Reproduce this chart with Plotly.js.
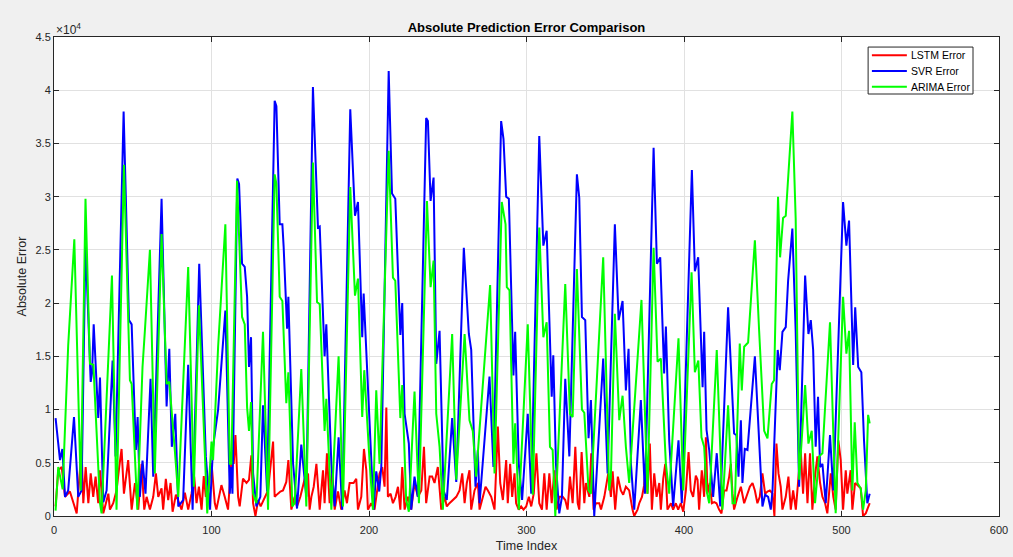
<!DOCTYPE html>
<html>
<head>
<meta charset="utf-8">
<script src="https://cdn.plot.ly/plotly-3.0.1.min.js"></script>
<style>
html,body{margin:0;padding:0;background:#f0f0f0;}
#chart{width:1013px;height:557px;}
</style>
</head>
<body>
<div id="chart"></div>
<script>
// [time index, absolute error]
const lstmError = [[1,900],[2.7,4300],[4.9,4600],[7,1800],[10.1,2300],[12.3,1200],[14.4,250],[17.5,6300],[18.6,1200],[20.1,4600],[21.8,1200],[23.3,4000],[24.9,1800],[26.4,3700],[28.1,1200],[29.2,4300],[31.3,250],[34.5,2100],[35.5,600],[37.6,1200],[39.7,2400],[41.4,4600],[42.9,6300],[44.4,2100],[47.1,5250],[49.3,600],[51.4,3100],[53.5,600],[55.6,4900],[57.3,600],[58.8,1800],[60.9,600],[63,1800],[64.7,4000],[66.2,1800],[68.3,2600],[69.3,600],[71,3500],[72.5,1500],[74,3100],[75.3,400],[77.4,2000],[81,600],[83.1,2200],[85.2,600],[87.3,2100],[89,3700],[90.5,1200],[92,2750],[93.7,600],[95.1,3750],[96.4,1800],[97.9,2400],[100,5000],[102.1,1200],[103.1,600],[106.3,2900],[108.4,1800],[110.5,600],[113.1,6200],[114.1,4900],[115.2,7600],[116.9,1800],[117.9,900],[120,3500],[122.2,3100],[123.8,3400],[125.3,5700],[126.4,1200],[127.9,0],[129.6,1500],[131.2,900],[133.8,1800],[135.9,2400],[139.1,7000],[140.1,1800],[142.2,2100],[143.7,2300],[145.4,2400],[147.5,3200],[148.8,5250],[150.7,600],[152.8,1800],[154.3,900],[156.4,1800],[159.2,3500],[161.3,4000],[162.3,600],[163.4,1800],[164.9,2750],[166.6,4900],[168.7,600],[170.8,4300],[171.8,1200],[173.3,5900],[175,1200],[176.7,4000],[178.2,600],[180.3,2300],[182.4,600],[184.5,2400],[186,1200],[187.7,3100],[190.2,3100],[191.9,3500],[193,600],[195.1,1800],[196.8,6300],[198.3,4300],[199.3,600],[201.4,1200],[203.5,600],[206.7,4000],[208.4,4600],[209.9,2750],[211,10200],[212,1800],[213.7,2100],[215.2,1200],[216.9,1800],[218.4,2750],[219.9,600],[221.1,4600],[222.6,600],[224.7,1800],[226.8,600],[228.9,3100],[231.1,1800],[233.2,2400],[234.9,6500],[236.3,1200],[238.5,3700],[240.1,3700],[241.6,3100],[243.7,4600],[245.9,600],[248,1800],[249.4,900],[251.1,1200],[253.3,1500],[255.4,1800],[257.5,2400],[259.2,4000],[260.7,1200],[262.1,3100],[263.8,4300],[264.9,600],[267,2400],[269.1,3100],[270.2,600],[272.3,1800],[274,2750],[275.5,2400],[277.6,1800],[279.7,600],[281.8,8400],[283.3,3100],[285,1500],[287.1,5250],[288.1,1200],[289.6,4900],[290.9,1800],[292.4,4000],[293.4,1200],[295.1,600],[296.6,900],[298.1,600],[299.8,900],[301.5,1800],[303,900],[304.6,2100],[306.3,5900],[308.1,1200],[309.8,600],[311.3,4000],[312.8,600],[314.5,4000],[316,1200],[317.7,4300],[319.1,600],[320.8,1800],[323,1800],[324.6,1500],[326.1,600],[327.6,3700],[329.3,1200],[331,6500],[332.5,1200],[333.5,600],[335,6000],[336.7,1200],[337.7,3100],[339.9,1800],[341.1,5900],[342.6,600],[344.1,1200],[346.2,1200],[347.3,600],[349.4,1800],[351.9,4000],[353.6,1800],[354.7,4200],[356.3,600],[358,3700],[359.9,2400],[361.4,2000],[363.1,2750],[365.2,2400],[367.3,600],[368.4,0],[370.5,600],[371.6,1200],[373.3,1800],[374.7,2900],[375.8,4900],[376.8,2100],[378.3,6800],[379.6,600],[381.1,4000],[382.6,1800],[384.3,3100],[385.3,600],[386.8,3500],[388.1,4900],[389.5,600],[391.7,1200],[393.1,600],[394.8,1200],[396.3,600],[398,1200],[399.5,400],[401.2,2400],[402.9,6000],[404.3,2400],[405.8,1800],[407.5,3800],[408.6,3400],[409.6,600],[411.3,4300],[412.8,1800],[413.9,7400],[414.9,2100],[416.4,3100],[417.7,1200],[419.2,1300],[420.6,1200],[422.3,600],[423.8,250],[425.5,2400],[427,2400],[428.7,3700],[429.7,4900],[430.8,2100],[431.8,600],[434,1800],[436.1,2750],[438.2,1200],[440.3,2100],[441.8,2750],[443.5,3100],[445,2400],[446.6,1200],[448.1,1800],[449.8,4000],[451.5,2100],[453,2300],[454.5,2400],[456.2,2100],[457.4,0],[458.7,6800],[460,4000],[461.4,2750],[462.5,600],[464.6,1800],[466.3,3700],[467.8,600],[469.3,2400],[471,600],[472.6,3500],[474.1,6200],[475.6,2100],[476.9,5900],[478.4,1200],[480,5900],[481.5,600],[483.2,3800],[484.7,5600],[486.4,3100],[487.9,1800],[489.6,1200],[491,250],[493.2,4000],[494.8,1800],[496.3,600],[498,7100],[499.5,5250],[501,600],[502.7,4300],[503.7,2100],[505.8,4300],[506.9,600],[508.6,3100],[510.1,2900],[512.2,2600],[513.7,0],[515.4,250],[517.9,1200]];

const svrError = [[1,9200],[3.8,5250],[5.3,6300],[7,1800],[9,2400],[12.7,9300],[15.4,1800],[17.5,2400],[20,25700],[23.3,12600],[24.2,13500],[25.2,18000],[28.1,9200],[29.2,13000],[31.3,1300],[33.4,2400],[37.2,14600],[39.1,5600],[44.2,38000],[47.6,18400],[49.3,18000],[52,6200],[53.1,9300],[54.5,1800],[56.2,5200],[58.1,2100],[61.3,12900],[63,3700],[68.3,29800],[71.5,10300],[73.2,15700],[74.8,6500],[77,9600],[78.9,900],[82,1500],[85.2,14200],[88,600],[92.2,23700],[96.4,5600],[99,600],[101,6500],[104.2,10000],[108.8,19300],[111.6,2100],[112.5,4600],[113.3,2100],[116.4,31700],[117.5,31200],[119.4,23700],[121.1,23400],[122.6,20600],[123.8,14000],[125.1,16800],[126.4,4000],[128.5,900],[131,1800],[132.7,10400],[135.3,2300],[140.1,39000],[141.2,38500],[143.3,27400],[145,27400],[145.8,25300],[148,17600],[148.8,20600],[150,13600],[151.8,4900],[154.3,700],[157,6700],[160.2,1800],[164.4,40300],[167.6,27100],[168.7,27200],[171.8,15000],[172.9,18000],[176.1,4900],[178.2,900],[180.7,7400],[183,600],[188.1,38200],[191.1,28200],[193,29500],[195.7,16800],[196.6,20900],[200.4,9400],[202.9,600],[204.6,4200],[206.5,2300],[207.8,4600],[212.5,41800],[214.6,30300],[216.7,29800],[219.9,17000],[221.1,20000],[222.6,9600],[225.3,6800],[226.8,600],[228.9,3700],[231,1800],[236.3,37400],[237.4,37100],[239.1,29600],[241,31800],[242.7,14300],[244.8,17400],[247.3,2400],[249.4,1500],[252.8,9200],[255.4,3200],[260.2,25200],[263.4,17100],[264.9,15600],[267.6,2750],[269.1,6200],[270.2,1200],[276.5,13100],[279,4600],[283.9,37100],[285.4,35400],[287.1,30000],[288.8,29800],[291.7,13200],[292.8,17300],[295.1,4900],[297.2,1500],[300.8,9600],[303,2100],[308.1,35700],[310.7,25400],[312.8,26800],[316,11200],[317,15100],[318.7,4900],[320.8,250],[322.5,1800],[324.6,12900],[327.2,5600],[332,32100],[333.5,29900],[335.2,18700],[337.3,18400],[339.4,7300],[340.9,10900],[342,3700],[343,0],[348.7,14800],[351.5,4000],[356.1,27400],[358.5,18400],[361,20200],[363.1,11800],[364.8,15700],[366.3,4900],[368.4,600],[372.6,10900],[375.2,2100],[380.7,34600],[382.8,23700],[384.9,24300],[387.4,13400],[388.5,17800],[390.6,7100],[393.1,900],[396.5,7100],[398.6,1200],[405,32500],[406.9,23000],[409,24300],[411.1,14300],[411.8,12100],[412.8,17300],[414.3,8100],[416,6200],[418.5,1800],[420.8,5900],[423,900],[428,19600],[431.8,7750],[433.3,7600],[434.6,3700],[436.1,9000],[437.1,3100],[438.6,6300],[440.3,6200],[445,15000],[447.7,6200],[449.8,900],[451.5,2000],[453.4,1800],[455.1,600],[456.2,2400],[459.5,15600],[460.8,13700],[462.5,17300],[464.6,17750],[466.1,22100],[468.8,27000],[470.9,17400],[473.1,2750],[476.9,22600],[479,17100],[480.5,18400],[482,15600],[483.6,6500],[485.1,11200],[486.4,4600],[487.9,4900],[490,1200],[492.7,7600],[494.8,2400],[501,29500],[503.1,25400],[504.8,27750],[507.4,14200],[508.7,19600],[510.6,14000],[512.6,13500],[514.3,7100],[516.4,1200],[517.9,2100]];

const arimaError = [[1,500],[2.7,4600],[5.5,2500],[9,16000],[12.9,26000],[17,2400],[20,29800],[22.8,14300],[25,14200],[29.2,1200],[30.2,250],[36.8,22600],[39.7,600],[44.4,33000],[48.2,12750],[49.3,12400],[52.9,600],[56.2,14000],[57.7,17400],[60.9,25000],[64,4000],[68.3,26500],[71.5,12400],[73.2,12600],[76.7,6200],[78.9,1800],[85.2,23400],[88.8,2750],[92,19800],[97.3,250],[100,7000],[101,5250],[104.2,15900],[108.8,27400],[111.6,4900],[112.6,4900],[116.2,31500],[119.4,18700],[121.1,18000],[122.6,10200],[123.8,8000],[125.1,10700],[126.4,2100],[128.5,1200],[132.7,17300],[135.9,600],[140.1,32100],[141.2,31200],[143.3,20600],[145,20200],[147.5,10600],[148.8,13500],[150,8000],[151.3,900],[152.8,1200],[157,13800],[160.2,900],[164.4,33200],[167,20100],[168.7,19900],[171.8,8000],[172.9,11000],[176.1,600],[180.7,15000],[183.5,900],[188.1,30900],[191.1,20700],[193,22300],[195.7,9300],[197,13700],[200.4,5000],[202.5,600],[204.6,11800],[206.7,4900],[212.5,34300],[215.2,22400],[216.7,22100],[219.9,9200],[221.1,12300],[223.6,1500],[225.3,400],[228.9,11700],[231.7,1200],[236.8,29600],[239.1,21500],[241,24000],[242.7,9600],[244.8,6500],[246.9,600],[252.8,17100],[255.4,3400],[260.7,17100],[263.8,9000],[265.9,8000],[268,3700],[276.9,21700],[279.7,4000],[284.3,29500],[286.7,27400],[287.5,21500],[289.2,21200],[291.7,4900],[292.8,8700],[295.1,600],[300.8,18000],[304,2000],[308.1,27100],[310.7,16800],[312.8,18200],[314.9,6500],[316.6,6200],[318.3,0],[324.6,21800],[327.6,9600],[329.3,9300],[332,23200],[335.2,10000],[336.7,9700],[339.4,2400],[340.9,2100],[348.7,24300],[352.5,2400],[353.6,3700],[356.1,19000],[358.9,9000],[361,11300],[363.1,6500],[365.2,3100],[373,20300],[376.8,2100],[380.7,25200],[383.2,14500],[385.3,14800],[388.5,4900],[390.6,2100],[396.5,16700],[399.5,2400],[404.8,22900],[406.9,13500],[409.1,14600],[411.1,7400],[412.8,6500],[414.3,2400],[416,1200],[420.8,15600],[424.4,600],[428,10400],[430.8,1200],[432.3,1200],[435.4,16200],[436.7,11800],[438.2,15900],[440.7,16300],[445,25900],[447.7,17400],[449.4,12750],[450.9,8000],[453,7300],[455.7,12400],[457.2,12750],[459.7,30000],[461,24300],[462.9,28000],[464.6,28200],[468.8,38000],[470.9,28000],[473.1,3400],[474.8,7300],[476.9,12300],[479,6800],[481.1,8000],[483.2,1200],[485.8,5600],[487.9,5900],[492.7,18200],[496.3,250],[501,20600],[503.1,15250],[504.8,17400],[506.9,2400],[508.4,8800],[510.1,3100],[512.2,2600],[513.7,600],[515.4,2400],[516.9,9500],[517.9,8700]];

const seriesNames = ['LSTM Error', 'SVR Error', 'ARIMA Error'];
const seriesColors = ['#ff0000', '#0000ff', '#00ff00'];
const yTickVals = [0, 5000, 10000, 15000, 20000, 25000, 30000, 35000, 40000, 45000];
const yTickText = ['0', '0.5', '1', '1.5', '2', '2.5', '3', '3.5', '4', '4.5'];
const xTickVals = [0, 100, 200, 300, 400, 500, 600];

const FONT = 'Liberation Sans, Arial, Helvetica, sans-serif';
const allSeries = [lstmError, svrError, arimaError];
const traces = allSeries.map((pts, i) => ({
  x: pts.map(p => p[0]),
  y: pts.map(p => p[1]),
  type: 'scatter',
  mode: 'lines',
  name: seriesNames[i],
  line: {color: seriesColors[i], width: 2},
  showlegend: false
}));

const axisCommon = {
  showline: true, linecolor: '#262626', linewidth: 1, mirror: 'ticks',
  ticks: 'inside', ticklen: 5, tickcolor: '#262626',
  showgrid: true, gridcolor: '#e1e1e1', gridwidth: 1,
  zeroline: false,
  tickfont: {family: FONT, size: 11, color: '#262626'}
};

// compact legend box (MATLAB style), placed in paper coordinates
const legBox = {x0: 0.8615, x1: 0.9725, y0: 0.881, y1: 0.979};
const legRows = [0.962, 0.929, 0.896];
const shapes = [{
  type: 'rect', xref: 'paper', yref: 'paper',
  x0: legBox.x0, x1: legBox.x1, y0: legBox.y0, y1: legBox.y1,
  fillcolor: '#ffffff', line: {color: '#262626', width: 1}, layer: 'above'
}];
const annotations = [{
  text: '×10<sup>4</sup>', xref: 'paper', yref: 'paper', x: 0, y: 1,
  xanchor: 'left', yanchor: 'bottom', showarrow: false, yshift: -2,
  font: {family: FONT, size: 12, color: '#262626'}
}];
seriesNames.forEach((name, i) => {
  shapes.push({
    type: 'line', xref: 'paper', yref: 'paper',
    x0: 0.8655, x1: 0.9025, y0: legRows[i], y1: legRows[i],
    line: {color: seriesColors[i], width: 2}, layer: 'above'
  });
  annotations.push({
    text: name, xref: 'paper', yref: 'paper', x: 0.9045, y: legRows[i],
    xanchor: 'left', yanchor: 'middle', showarrow: false,
    font: {family: FONT, size: 10.5, color: '#000000'}
  });
});

const layout = {
  width: 1013, height: 557,
  paper_bgcolor: '#f0f0f0', plot_bgcolor: '#ffffff',
  margin: {l: 54, r: 14, t: 37, b: 41},
  showlegend: false,
  title: {
    text: '<b>Absolute Prediction Error Comparison</b>',
    font: {family: FONT, size: 13, color: '#000000'},
    x: 0.5, xref: 'paper', xanchor: 'center',
    y: 1, yref: 'paper', yanchor: 'bottom', pad: {b: 5}
  },
  xaxis: Object.assign({}, axisCommon, {
    range: [0, 600], tickvals: xTickVals, ticklabelstandoff: 4,
    title: {text: 'Time Index', font: {family: FONT, size: 12.5, color: '#262626'}, standoff: 6}
  }),
  yaxis: Object.assign({}, axisCommon, {
    range: [0, 45000], tickvals: yTickVals, ticktext: yTickText,
    title: {text: 'Absolute Error', font: {family: FONT, size: 12.5, color: '#262626'}, standoff: 6}
  }),
  shapes: shapes,
  annotations: annotations
};

Plotly.newPlot('chart', traces, layout, {displayModeBar: false, staticPlot: true});
</script>
</body>
</html>
